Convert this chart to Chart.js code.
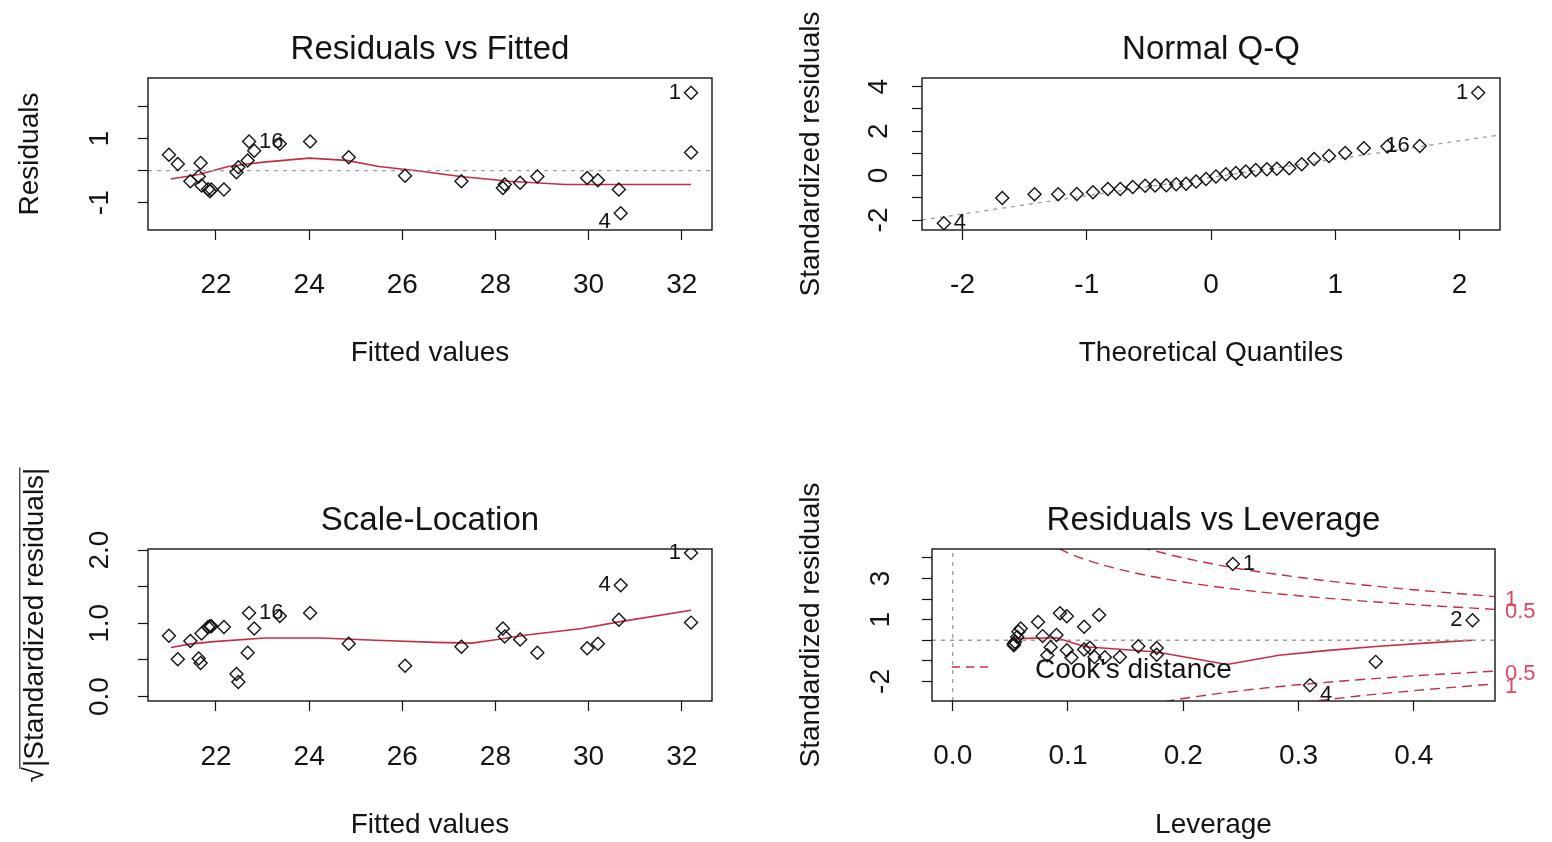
<!DOCTYPE html>
<html>
<head>
<meta charset="utf-8">
<title>lm diagnostic plots</title>
<script src="https://cdn.jsdelivr.net/npm/chart.js@4.4.1/dist/chart.umd.min.js"></script>
<style>
  html, body { margin: 0; padding: 0; background: #fff; overflow: hidden; }
  body { width: 1552px; height: 842px; position: relative; }
  canvas { position: absolute; }
</style>
</head>
<body>
<canvas id="resFitted"></canvas>
<canvas id="normalQQ"></canvas>
<canvas id="scaleLoc"></canvas>
<canvas id="resLeverage"></canvas>
<script>
// ---- Residuals vs Fitted / Scale-Location (share the fitted values)
const fittedValues = [20.99, 21.18, 21.45, 21.63, 21.67, 21.69, 21.83, 21.87, 21.90, 22.17, 22.44, 22.48, 22.68, 22.71, 22.82,
  23.37, 24.02, 24.85, 26.06, 27.27, 28.16, 28.20, 28.53, 28.90, 29.97, 30.20, 30.65, 30.69, 32.20, 32.20];
const residuals = [0.50, 0.21, -0.33, -0.18, 0.24, -0.46, -0.58, -0.64, -0.59, -0.59, -0.05, 0.11, 0.32, 0.91, 0.62,
  0.84, 0.91, 0.42, -0.16, -0.33, -0.54, -0.43, -0.38, -0.18, -0.23, -0.30, -0.59, -1.33, 2.43, 0.57];
const sqrtAbsStdResiduals = [0.83, 0.51, 0.76, 0.52, 0.46, 0.86, 0.95, 0.96, 0.96, 0.95, 0.31, 0.20, 0.60, 1.14, 0.93,
  1.10, 1.14, 0.72, 0.42, 0.68, 0.93, 0.82, 0.78, 0.60, 0.66, 0.72, 1.05, 1.52, 1.96, 1.01];
const fittedIdIndex = [28, 27, 13];
const fittedIdText = ['1', '4', '16'];

// red smoother lines
const resSmoothX = [21.03, 21.63, 22.26, 22.97, 24.0, 24.8, 25.5, 26.4, 27.25, 28.3, 29.5, 30.65, 32.2];
const resSmoothY = [-0.26, -0.12, 0.13, 0.26, 0.39, 0.32, 0.13, -0.02, -0.18, -0.33, -0.43, -0.43, -0.43];
const slSmoothX = [21.03, 21.47, 21.95, 23.05, 24.24, 25.43, 26.7, 27.5, 28.04, 28.67, 29.86, 30.65, 32.2];
const slSmoothY = [0.67, 0.72, 0.75, 0.80, 0.80, 0.77, 0.74, 0.73, 0.78, 0.84, 0.93, 1.02, 1.18];

// ---- Normal Q-Q
const theoQuantiles = [-2.15, -1.68, -1.42, -1.23, -1.08, -0.95, -0.83, -0.73, -0.63, -0.53, -0.45, -0.36, -0.28, -0.20, -0.12, -0.04,
  0.04, 0.12, 0.20, 0.28, 0.36, 0.45, 0.53, 0.63, 0.73, 0.83, 0.95, 1.08, 1.23, 1.42, 1.68, 2.15];
const sortedStdResiduals = [-2.15, -1.01, -0.84, -0.84, -0.83, -0.75, -0.61, -0.60, -0.52, -0.46, -0.45, -0.44, -0.39, -0.37, -0.27, -0.16,
  -0.04, 0.06, 0.12, 0.18, 0.25, 0.28, 0.31, 0.33, 0.51, 0.74, 0.88, 1.01, 1.23, 1.31, 1.33, 3.73];
const qqIdIndex = [31, 0, 30];
const qqIdText = ['1', '4', '16'];
const qqLineX = [-2.326, 2.326];
const qqLineY = [-2.0, 1.83];

// ---- Residuals vs Leverage
const leverage = [0.053, 0.053, 0.054, 0.056, 0.057, 0.059, 0.074, 0.078, 0.082, 0.085, 0.090, 0.093, 0.099, 0.099, 0.103,
  0.114, 0.114, 0.119, 0.123, 0.127, 0.132, 0.145, 0.161, 0.177, 0.177, 0.243, 0.310, 0.367, 0.451];
const levStdResiduals = [-0.24, -0.17, -0.08, 0.16, 0.41, 0.57, 0.89, 0.20, -0.73, -0.34, 0.26, 1.31, 1.17, -0.49, -0.84,
  0.66, -0.45, -0.36, -0.81, 1.22, -0.83, -0.81, -0.29, -0.38, -0.70, 3.70, -2.19, -1.05, 0.97];
const levIdIndex = [25, 26, 28];
const levIdText = ['1', '4', '2'];
const levSmoothX = [0.053, 0.090, 0.115, 0.177, 0.238, 0.283, 0.326, 0.370, 0.413, 0.451];
const levSmoothY = [0.08, 0.12, -0.32, -0.57, -1.18, -0.73, -0.49, -0.29, -0.13, 0.0];
// Cook's distance contours (0.5 and 1)
const cookHalfUpLev = [0.08, 0.10, 0.12, 0.15, 0.20, 0.25, 0.30, 0.35, 0.40, 0.47];
const cookHalfUp = [4.80, 4.24, 3.83, 3.37, 2.83, 2.45, 2.16, 1.93, 1.73, 1.50];
const cookOneUpLev = [0.15, 0.17, 0.20, 0.25, 0.30, 0.35, 0.40, 0.47];
const cookOneUp = [4.76, 4.42, 4.00, 3.46, 3.06, 2.72, 2.45, 2.12];
const cookHalfLowLev = [0.17, 0.20, 0.25, 0.30, 0.35, 0.40, 0.47];
const cookHalfLow = [-3.12, -2.83, -2.45, -2.16, -1.93, -1.73, -1.50];
const cookOneLowLev = [0.29, 0.30, 0.35, 0.40, 0.47];
const cookOneLow = [-3.13, -3.06, -2.72, -2.45, -2.12];

// ---- axes
const fittedTicks = [22, 24, 26, 28, 30, 32];
const fittedTickLabels = ['22', '24', '26', '28', '30', '32'];
const residTicks = [-1, 0, 1, 2];
const residTickLabels = ['-1', '', '1', ''];
const qqXTicks = [-2, -1, 0, 1, 2];
const qqXTickLabels = ['-2', '-1', '0', '1', '2'];
const qqYTicks = [-2, -1, 0, 1, 2, 3, 4];
const qqYTickLabels = ['-2', '', '0', '', '2', '', '4'];
const slTicks = [0, 0.5, 1, 1.5, 2];
const slTickLabels = ['0.0', '', '1.0', '', '2.0'];
const levXTicks = [0, 0.1, 0.2, 0.3, 0.4];
const levXTickLabels = ['0.0', '0.1', '0.2', '0.3', '0.4'];
const levYTicks = [-2, -1, 0, 1, 2, 3, 4];
const levYTickLabels = ['-2', '', '', '1', '', '3', ''];

const fittedRange = [20.54, 32.65];
const residRange = [-1.85, 2.89];
const qqXRange = [-2.326, 2.326];
const qqYRange = [-2.45, 4.39];
const slRange = [-0.06, 2.015];
const levXRange = [-0.018, 0.4705];
const levYRange = [-2.95, 4.43];

const INK = '#141414';
const RED = '#C42E45';
const RED_TEXT = '#DA4A62';
const GREY = '#9c9c9c';
const FONT = '"Liberation Sans", Arial, Helvetica, sans-serif';
Chart.defaults.font.family = FONT;
Chart.defaults.color = INK;

// where each panel sits on the page; box = plot frame [left, top, right, bottom]
const panelGeo = {
  resFitted:   { x: 0,   y: 0,   w: 776, h: 421, box: [148, 78, 712, 230] },
  normalQQ:    { x: 776, y: 0,   w: 776, h: 421, box: [922, 78, 1500, 230] },
  scaleLoc:    { x: 0,   y: 421, w: 776, h: 421, box: [148, 549, 712, 701] },
  resLeverage: { x: 776, y: 421, w: 776, h: 421, box: [932, 549, 1495, 701] }
};

const pts = (xs, ys) => xs.map((x, i) => ({ x: x, y: ys[i] }));

function pointSet(xs, ys) {
  return {
    data: pts(xs, ys), showLine: false, order: 0,
    pointStyle: 'rectRot', pointRadius: 6.5, pointHoverRadius: 6.5,
    pointBorderWidth: 1.4, borderColor: INK, backgroundColor: 'rgba(0,0,0,0)'
  };
}

function lineSet(xs, ys, color, width, dash, smooth) {
  return {
    data: pts(xs, ys), showLine: true, order: 1,
    pointRadius: 0, borderColor: color, borderWidth: width, borderDash: dash || [],
    cubicInterpolationMode: smooth ? 'monotone' : 'default', tension: 0, fill: false
  };
}

function axis(spec, dir, size) {
  const horizontal = dir === 'x';
  return {
    type: 'linear',
    position: horizontal ? 'bottom' : 'left',
    min: spec.range[0],
    max: spec.range[1],
    bounds: 'data',
    afterBuildTicks: s => { s.ticks = spec.ticks.map(v => ({ value: v })); },
    afterFit: s => { if (horizontal) s.height = size; else s.width = size; },
    grid: { drawOnChartArea: false, drawTicks: true, tickLength: 10, tickColor: INK, tickWidth: 1.2, color: INK },
    border: { display: false },
    ticks: {
      autoSkip: false,
      minRotation: horizontal ? 0 : 90,
      maxRotation: horizontal ? 0 : 90,
      crossAlign: horizontal ? 'near' : 'center',
      padding: spec.tickPad,
      color: INK,
      font: { size: 28 },
      callback: (v, i) => spec.labels[i]
    },
    title: {
      display: true, text: spec.title, color: INK, font: { size: 28 },
      padding: horizontal ? { top: 0, bottom: spec.titlePad } : { top: spec.titlePad, bottom: 0 }
    }
  };
}

// frame, main title, point ids and any panel extras, drawn R style
function rPanel(cfg) {
  return {
    id: 'rPanel',
    afterDraw(chart) {
      const { ctx, chartArea: a } = chart;
      const xs = chart.scales.x, ys = chart.scales.y;
      ctx.save();
      ctx.setLineDash([]);
      ctx.strokeStyle = INK;
      ctx.lineWidth = 1.4;
      ctx.strokeRect(a.left, a.top, a.right - a.left, a.bottom - a.top);

      ctx.fillStyle = INK;
      ctx.font = '33px ' + FONT;
      ctx.textAlign = 'center';
      ctx.textBaseline = 'middle';
      ctx.fillText(cfg.title, (a.left + a.right) / 2, a.top - cfg.titleGap);

      const id = cfg.ids;
      ctx.font = '22px ' + FONT;
      id.index.forEach((k, n) => {
        const side = id.side[n];
        const px = xs.getPixelForValue(id.xs[k]) + side * 10;
        const py = ys.getPixelForValue(id.ys[k]) + (id.dy ? id.dy[n] : 0);
        ctx.textAlign = side < 0 ? 'right' : 'left';
        ctx.fillText(id.text[n], px, py);
      });

      if (cfg.extra) cfg.extra(ctx, a, xs, ys);
      ctx.restore();
    }
  };
}

function makePanel(id, cfg) {
  const g = panelGeo[id];
  const [L, T, R, B] = g.box;
  const cv = document.getElementById(id);
  cv.width = g.w;
  cv.height = g.h;
  cv.style.left = g.x + 'px';
  cv.style.top = g.y + 'px';
  return new Chart(cv, {
    type: 'scatter',
    data: { datasets: cfg.datasets },
    options: {
      responsive: false,
      animation: false,
      events: [],
      layout: { padding: { left: 0, top: T - g.y, right: g.x + g.w - R, bottom: 0 } },
      plugins: { legend: { display: false }, tooltip: { enabled: false } },
      scales: {
        x: axis(cfg.x, 'x', g.y + g.h - B),
        y: axis(cfg.y, 'y', L - g.x)
      }
    },
    plugins: [rPanel(cfg)]
  });
}

makePanel('resFitted', {
  title: 'Residuals vs Fitted', titleGap: 28,
  datasets: [
    pointSet(fittedValues, residuals),
    lineSet(fittedRange, [0, 0], GREY, 1.3, [4, 5]),
    lineSet(resSmoothX, resSmoothY, RED, 1.6)
  ],
  ids: { xs: fittedValues, ys: residuals, index: fittedIdIndex, text: fittedIdText, side: [-1, -1, 1], dy: [0, 9, 0] },
  x: { range: fittedRange, ticks: fittedTicks, labels: fittedTickLabels, tickPad: 28, title: 'Fitted values', titlePad: 51 },
  y: { range: residRange, ticks: residTicks, labels: residTickLabels, tickPad: 25, title: 'Residuals', titlePad: 13 }
});

makePanel('normalQQ', {
  title: 'Normal Q-Q', titleGap: 28,
  datasets: [
    pointSet(theoQuantiles, sortedStdResiduals),
    lineSet(qqLineX, qqLineY, GREY, 1.3, [4, 5])
  ],
  ids: { xs: theoQuantiles, ys: sortedStdResiduals, index: qqIdIndex, text: qqIdText, side: [-1, 1, -1] },
  x: { range: qqXRange, ticks: qqXTicks, labels: qqXTickLabels, tickPad: 28, title: 'Theoretical Quantiles', titlePad: 51 },
  y: { range: qqYRange, ticks: qqYTicks, labels: qqYTickLabels, tickPad: 20, title: 'Standardized residuals', titlePad: 18 }
});

const slTitle = '\u221A|Standardized residuals|';
makePanel('scaleLoc', {
  title: 'Scale-Location', titleGap: 28,
  datasets: [
    pointSet(fittedValues, sqrtAbsStdResiduals),
    lineSet(slSmoothX, slSmoothY, RED, 1.6)
  ],
  ids: { xs: fittedValues, ys: sqrtAbsStdResiduals, index: fittedIdIndex, text: fittedIdText, side: [-1, -1, 1] },
  x: { range: fittedRange, ticks: fittedTicks, labels: fittedTickLabels, tickPad: 29, title: 'Fitted values', titlePad: 0 },
  y: { range: slRange, ticks: slTicks, labels: slTickLabels, tickPad: 18, title: slTitle, titlePad: 18 },
  extra: (ctx, a, xs, ys) => {
    // overbar of the square root sign
    ctx.font = '28px ' + FONT;
    const full = ctx.measureText(slTitle).width;
    const root = ctx.measureText('\u221A').width;
    const mid = (a.top + a.bottom) / 2;
    const bx = ys.left + 18 + 16.8 - 15;
    ctx.strokeStyle = INK;
    ctx.lineWidth = 1.1;
    ctx.beginPath();
    ctx.moveTo(bx, mid + full / 2 - root + 2);
    ctx.lineTo(bx, mid - full / 2);
    ctx.stroke();
  }
});

const cookLabels = [
  { text: '1', std: cookOneUp },
  { text: '0.5', std: cookHalfUp },
  { text: '0.5', std: cookHalfLow },
  { text: '1', std: cookOneLow }
];
makePanel('resLeverage', {
  title: 'Residuals vs Leverage', titleGap: 28,
  datasets: [
    pointSet(leverage, levStdResiduals),
    lineSet(levXRange, [0, 0], GREY, 1.3, [4, 5]),
    lineSet([0, 0], levYRange, GREY, 1.3, [4, 5]),
    lineSet(levSmoothX, levSmoothY, RED, 1.6),
    lineSet(cookHalfUpLev, cookHalfUp, RED, 1.4, [10, 6], true),
    lineSet(cookOneUpLev, cookOneUp, RED, 1.4, [10, 6], true),
    lineSet(cookHalfLowLev, cookHalfLow, RED, 1.4, [10, 6], true),
    lineSet(cookOneLowLev, cookOneLow, RED, 1.4, [10, 6], true)
  ],
  ids: { xs: leverage, ys: levStdResiduals, index: levIdIndex, text: levIdText, side: [1, 1, -1], dy: [0, 10, 0] },
  x: { range: levXRange, ticks: levXTicks, labels: levXTickLabels, tickPad: 28, title: 'Leverage', titlePad: 0 },
  y: { range: levYRange, ticks: levYTicks, labels: levYTickLabels, tickPad: 28, title: 'Standardized residuals', titlePad: 18 },
  extra: (ctx, a, xs, ys) => {
    // legend, bottom left
    ctx.strokeStyle = RED;
    ctx.lineWidth = 1.4;
    ctx.setLineDash([8, 6]);
    ctx.beginPath();
    ctx.moveTo(a.left + 20, a.bottom - 34);
    ctx.lineTo(a.left + 56, a.bottom - 34);
    ctx.stroke();
    ctx.setLineDash([]);
    ctx.font = '28px ' + FONT;
    ctx.fillStyle = INK;
    ctx.textAlign = 'left';
    ctx.textBaseline = 'middle';
    ctx.fillText("Cook's distance", a.left + 103, a.bottom - 31);
    // contour levels in the right margin
    ctx.font = '22px ' + FONT;
    ctx.fillStyle = RED_TEXT;
    cookLabels.forEach(c => {
      ctx.fillText(c.text, a.right + 10, ys.getPixelForValue(c.std[c.std.length - 1]) + 3);
    });
  }
});
</script>
</body>
</html>
